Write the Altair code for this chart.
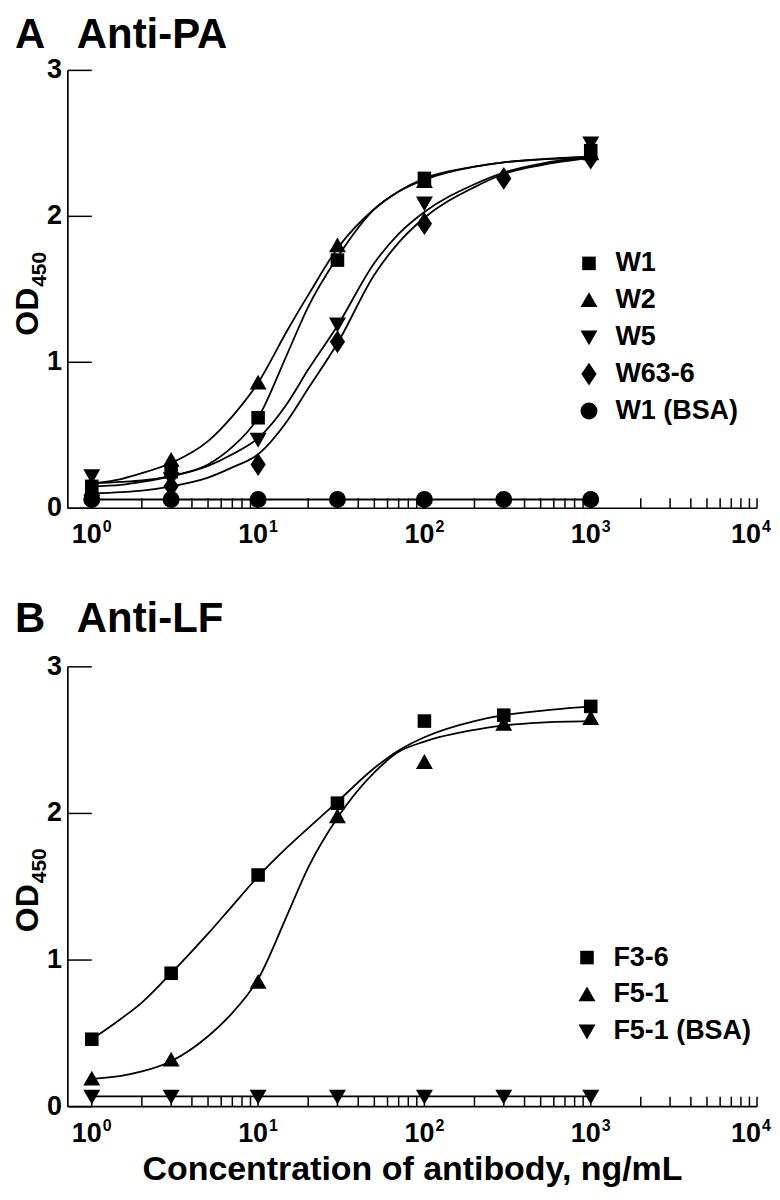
import altair as alt
import pandas as pd

# ---------------- data ----------------
CONC = [1, 3, 10, 30, 100, 300, 1000]
CURVE_X = [1, 1.5, 2, 3, 5, 7, 10, 15, 20, 30, 50, 70, 100, 200, 300, 500, 1000]

# Panel A: Anti-PA
A_NAMES = ["W1", "W2", "W5", "W63-6", "W1 (BSA)"]
A_W1_X = [1, 3, 10, 30, 100, 1000]
A_W1_Y = [0.15, 0.25, 0.62, 1.70, 2.26, 2.45]
A_W2_X = [1, 3, 10, 30, 100, 1000]
A_W2_Y = [0.13, 0.33, 0.86, 1.80, 2.24, 2.43]
A_W5_X = [1, 3, 10, 30, 100, 1000]
A_W5_Y = [0.22, 0.20, 0.47, 1.26, 2.09, 2.50]
A_W63_X = [1, 3, 10, 30, 100, 300, 1000]
A_W63_Y = [0.08, 0.15, 0.30, 1.14, 1.95, 2.26, 2.40]
A_BSA_X = [1, 3, 10, 30, 100, 300, 1000]
A_BSA_Y = [0.06, 0.06, 0.06, 0.06, 0.06, 0.06, 0.06]

A_W1_FIT = [0.15, 0.16, 0.18, 0.22, 0.30, 0.42, 0.62, 1.06, 1.38, 1.72, 2.05, 2.17, 2.25, 2.34, 2.37, 2.39, 2.41]
A_W2_FIT = [0.17, 0.20, 0.24, 0.31, 0.46, 0.63, 0.86, 1.22, 1.46, 1.78, 2.05, 2.17, 2.26, 2.34, 2.37, 2.39, 2.40]
A_W5_FIT = [0.17, 0.18, 0.19, 0.22, 0.29, 0.37, 0.48, 0.72, 0.95, 1.25, 1.68, 1.88, 2.03, 2.22, 2.30, 2.36, 2.41]
A_W63_FIT = [0.10, 0.11, 0.12, 0.15, 0.21, 0.28, 0.37, 0.60, 0.82, 1.13, 1.60, 1.82, 1.99, 2.20, 2.29, 2.35, 2.40]

# Panel B: Anti-LF
B_NAMES = ["F3-6", "F5-1", "F5-1 (BSA)"]
B_F36_Y = [0.46, 0.91, 1.58, 2.07, 2.63, 2.67, 2.73]
B_F51_Y = [0.19, 0.32, 0.85, 1.98, 2.35, 2.61, 2.65]
B_BSA_Y = [0.07, 0.07, 0.07, 0.07, 0.07, 0.07, 0.07]
B_F36_FIT = [0.46, 0.60, 0.71, 0.91, 1.18, 1.37, 1.57, 1.77, 1.90, 2.08, 2.31, 2.43, 2.52, 2.63, 2.67, 2.70, 2.73]
B_F51_FIT = [0.19, 0.21, 0.24, 0.31, 0.48, 0.64, 0.87, 1.31, 1.63, 1.97, 2.28, 2.42, 2.49, 2.57, 2.60, 2.62, 2.63]

# axes
X_TICKS = [1, 2, 3, 4, 5, 6, 7, 8, 9,
           10, 20, 30, 40, 50, 60, 70, 80, 90,
           100, 200, 300, 400, 500, 600, 700, 800, 900,
           1000, 2000, 3000, 4000, 5000, 6000, 7000, 8000, 9000, 10000]
X_DECADES = [1, 10, 100, 1000, 10000]
X_BASE = ["10", "10", "10", "10", "10"]
X_EXP = ["0", "1", "2", "3", "4"]
Y_TICKS = [0, 1, 2, 3]
Y_LABELS = ["0", "1", "2", "3"]

PANEL_TITLES = [("A", "Anti-PA"), ("B", "Anti-LF")]
Y_TITLE = ("OD", "450")
X_TITLE = "Concentration of antibody, ng/mL"

# ---------------- styling ----------------
FONT = "Liberation Sans"
W = 691
SQ = "M-0.8,-0.8L0.8,-0.8L0.8,0.8L-0.8,0.8Z"
TU = "M0,-0.95L1,0.8L-1,0.8Z"
TD = "M0,0.95L1,-0.8L-1,-0.8Z"
DM = "M0,-1.35L0.9,0L0,1.35L-0.9,0Z"

xsc = alt.Scale(type="log", domain=[0.7178, 10000], nice=False)


def X(f):
    return alt.X(f, type="quantitative", scale=xsc, axis=None)


def make_panel(ysc, pts, fits, names, shapes, legend_xy, top, title_dy, titles):
    def Y(f):
        return alt.Y(f, type="quantitative", scale=ysc, axis=None)

    axis_df = pd.DataFrame({"y0": [0], "y1": [3]})
    xaxis = alt.Chart(axis_df).mark_rule(color="black", strokeWidth=1.7).encode(
        x=alt.value(0), x2=alt.value(W), y=Y("y0"))
    yaxis = alt.Chart(axis_df).mark_rule(color="black", strokeWidth=1.7).encode(
        x=alt.value(0), y=Y("y0"), y2=alt.Y2("y1"))

    yt = pd.DataFrame({"v": Y_TICKS, "lbl": Y_LABELS})
    yticks = alt.Chart(yt).mark_rule(color="black", strokeWidth=1.5).encode(
        x=alt.value(0), x2=alt.value(24), y=Y("v"))
    ylabels = alt.Chart(yt).mark_text(
        align="right", baseline="middle", font=FONT, fontSize=27,
        fontWeight="bold", color="black").encode(
        x=alt.value(-6), y=Y("v"), text="lbl:N")

    xt = pd.DataFrame({"t": X_TICKS})
    xt["z"] = 0
    xticks = alt.Chart(xt).mark_tick(
        orient="vertical", size=10, thickness=1.5, yOffset=-5, color="black",
        opacity=1).encode(x=X("t"), y=Y("z"))

    xl = pd.DataFrame({"d": X_DECADES, "base": X_BASE, "exp": X_EXP})
    xl["z"] = 0
    xlab = alt.Chart(xl)
    inner = xlab.transform_filter(alt.datum.d < 10000)
    last = xlab.transform_filter(alt.datum.d >= 10000)
    base_kw = dict(align="right", baseline="alphabetic", dy=35, font=FONT,
                   fontSize=27, fontWeight="bold", color="black")
    exp_kw = dict(align="left", baseline="alphabetic", dy=24, font=FONT,
                  fontSize=16, fontWeight="bold", color="black")
    xbase = inner.mark_text(dx=10, **base_kw).encode(
        x=X("d"), y=Y("z"), text="base:N")
    xexp = inner.mark_text(dx=11, **exp_kw).encode(
        x=X("d"), y=Y("z"), text="exp:N")
    xbase_l = last.mark_text(dx=4, **base_kw).encode(
        x=X("d"), y=Y("z"), text="base:N")
    xexp_l = last.mark_text(dx=5, **exp_kw).encode(
        x=X("d"), y=Y("z"), text="exp:N")

    lines = alt.Chart(fits).mark_line(
        color="black", strokeWidth=1.8, interpolate="monotone").encode(
        x=X("x"), y=Y("y"), detail="s:N")

    points = alt.Chart(pts).mark_point(
        filled=True, opacity=1, size=289, color="black", strokeWidth=0).encode(
        x=X("x"), y=Y("y"),
        shape=alt.Shape("s:N", scale=alt.Scale(domain=names, range=shapes),
                        legend=alt.Legend(
                            orient="none", legendX=legend_xy[0], legendY=legend_xy[1],
                            title=None, labelFont=FONT, labelFontSize=27,
                            labelFontWeight="bold", labelColor="black",
                            symbolSize=289, symbolFillColor="black",
                            symbolStrokeColor="black", symbolStrokeWidth=0,
                            symbolOpacity=1, rowPadding=9, labelOffset=13,
                            padding=0, labelLimit=400)))

    one = pd.DataFrame({"a": [titles[0]], "b": [titles[1]],
                        "od": [Y_TITLE[0]], "sub": [Y_TITLE[1]]})
    t1 = alt.Chart(one).mark_text(
        align="left", baseline="alphabetic", font=FONT, fontSize=42,
        fontWeight="bold", color="black").encode(
        x=alt.value(-53), y=alt.value(top + title_dy), text="a:N")
    t2 = alt.Chart(one).mark_text(
        align="left", baseline="alphabetic", font=FONT, fontSize=42,
        fontWeight="bold", color="black").encode(
        x=alt.value(9), y=alt.value(top + title_dy), text="b:N")
    od = alt.Chart(one).mark_text(
        align="left", baseline="alphabetic", angle=270, font=FONT, fontSize=32,
        fontWeight="bold", color="black").encode(
        x=alt.value(-30), y=alt.value(top + 266), text="od:N")
    sub = alt.Chart(one).mark_text(
        align="left", baseline="alphabetic", angle=270, font=FONT, fontSize=21,
        fontWeight="bold", color="black").encode(
        x=alt.value(-22), y=alt.value(top + 217), text="sub:N")

    return alt.layer(xaxis, yaxis, yticks, ylabels, xticks, xbase, xexp,
                     xbase_l, xexp_l, lines, points, t1, t2, od, sub)


def series_df(xs_list, ys_list, names):
    rows = []
    for xs, ys, n in zip(xs_list, ys_list, names):
        for xv, yv in zip(xs, ys):
            rows.append({"s": n, "x": xv, "y": yv})
    return pd.DataFrame(rows)


A_pts = series_df([A_W1_X, A_W2_X, A_W5_X, A_W63_X, A_BSA_X],
                  [A_W1_Y, A_W2_Y, A_W5_Y, A_W63_Y, A_BSA_Y], A_NAMES)
A_fit = series_df([CURVE_X, CURVE_X, CURVE_X, CURVE_X, A_BSA_X],
                  [A_W1_FIT, A_W2_FIT, A_W5_FIT, A_W63_FIT, A_BSA_Y], A_NAMES)
B_pts = series_df([CONC, CONC, CONC], [B_F36_Y, B_F51_Y, B_BSA_Y], B_NAMES)
B_fit = series_df([CURVE_X, CURVE_X, CONC], [B_F36_FIT, B_F51_FIT, B_BSA_Y], B_NAMES)

ysA = alt.Scale(domain=[0, 3], range=[439, 0], nice=False, zero=False)
ysB = alt.Scale(domain=[0, 3], range=[1039, 598], nice=False, zero=False)

panelA = make_panel(ysA, A_pts, A_fit, A_NAMES, [SQ, TU, TD, DM, "circle"],
                    (509, 180), 0, -22.5, PANEL_TITLES[0])
panelB = make_panel(ysB, B_pts, B_fit, B_NAMES, [SQ, TU, TD],
                    (507, 876), 598, -35, PANEL_TITLES[1])

xtitle = alt.Chart(pd.DataFrame({"t": [X_TITLE]})).mark_text(
    align="center", baseline="alphabetic", font=FONT, fontSize=34,
    fontWeight="bold", color="black").encode(
    x=alt.value(W / 2), y=alt.value(1113), text="t:N")

chart = alt.layer(panelA, panelB, xtitle).resolve_scale(
    y="independent", shape="independent"
).properties(
    width=W, height=1039,
    padding={"left": 60, "top": 61, "right": 15, "bottom": 84},
    autosize=alt.AutoSizeParams(type="none"),
).configure_view(stroke=None)

chart.save("out.html", embed_options={"renderer": "svg", "actions": False})
